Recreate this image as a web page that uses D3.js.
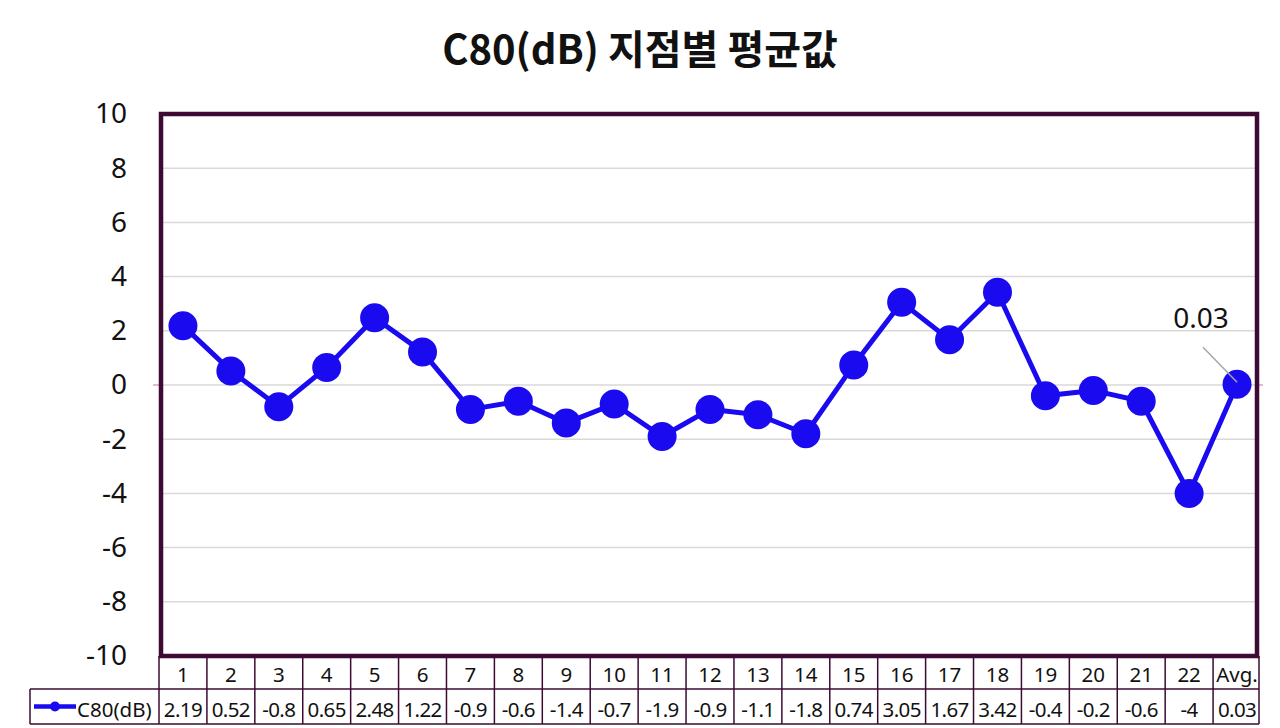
<!DOCTYPE html>
<html>
  <head>
    <meta charset="utf-8">
    <script src="https://d3js.org/d3.v7.min.js"></script>
    <title>C80(dB) 지점별 평균값</title>
    <style>
      body { margin: 0; background: #fff; }
      text { font-family: "Noto Sans CJK KR", "Noto Sans", sans-serif; fill: #111; }
    </style>
  </head>
  <body>
    <div id="chart"></div>
    <script>
      // chart data
      const categories = ["1","2","3","4","5","6","7","8","9","10","11","12","13","14","15","16","17","18","19","20","21","22","Avg."];
      const values = [2.19, 0.52, -0.8, 0.65, 2.48, 1.22, -0.9, -0.6, -1.4, -0.7, -1.9, -0.9, -1.1, -1.8, 0.74, 3.05, 1.67, 3.42, -0.4, -0.2, -0.6, -4, 0.03];
      const tableLabels = ["2.19","0.52","-0.8","0.65","2.48","1.22","-0.9","-0.6","-1.4","-0.7","-1.9","-0.9","-1.1","-1.8","0.74","3.05","1.67","3.42","-0.4","-0.2","-0.6","-4","0.03"];
      const yTicks = [-10, -8, -6, -4, -2, 0, 2, 4, 6, 8, 10];
      const seriesName = "C80(dB)";

      const W = 1280, H = 728;
      const FRAME = "#3d0a33";
      const BLUE = "#1a0af0";
      const plotL = 159, plotR = 1261, plotT = 114, plotB = 656;
      const FONT = "'Noto Sans', sans-serif";

      const svg = d3.select("#chart").append("svg")
        .attr("width", W).attr("height", H);

      // title
      svg.append("text")
        .attr("x", 640).attr("y", 64)
        .attr("text-anchor", "middle")
        .attr("font-size", 40).attr("font-weight", "bold")
        .text("C80(dB) 지점별 평균값");

      const x = d3.scaleBand().domain(categories).range([plotL, plotR]);
      const y = d3.scaleLinear().domain([-10, 10]).range([plotB, plotT]);

      // gridlines
      svg.append("g").selectAll("line")
        .data(yTicks.filter(d => d > -10 && d < 10))
        .enter().append("line")
        .attr("x1", plotL).attr("x2", plotR - 4)
        .attr("y1", d => y(d)).attr("y2", d => y(d))
        .attr("stroke", "#d9d9d9").attr("stroke-width", 1.5);

      // y axis labels (plain hyphen minus, as in the original)
      const yAxis = d3.axisLeft(y).tickValues(yTicks).tickSize(0).tickPadding(32)
        .tickFormat(d => String(d));
      const ya = svg.append("g").attr("transform", `translate(${plotL},0)`).call(yAxis);
      ya.select(".domain").remove();
      ya.selectAll("text")
        .attr("font-size", 28)
        .attr("fill", "#111")
        .style("font-family", FONT);

      // small ticks at zero
      svg.append("line").attr("x1", plotL - 6).attr("x2", plotL).attr("y1", y(0)).attr("y2", y(0))
        .attr("stroke", "#d9a0c0").attr("stroke-width", 1.5);
      svg.append("line").attr("x1", plotR - 2).attr("x2", plotR + 2).attr("y1", y(0)).attr("y2", y(0))
        .attr("stroke", "#d9a0c0").attr("stroke-width", 1.5);

      // series line
      const cx = d => x(d) + x.bandwidth() / 2;
      const line = d3.line().x((d, i) => cx(categories[i])).y(d => y(d));
      svg.append("path")
        .datum(values)
        .attr("d", line)
        .attr("fill", "none")
        .attr("stroke", BLUE)
        .attr("stroke-width", 5);

      svg.append("g").selectAll("circle")
        .data(values)
        .enter().append("circle")
        .attr("cx", (d, i) => cx(categories[i]))
        .attr("cy", d => y(d))
        .attr("r", 14.5)
        .attr("fill", BLUE);

      // data label for the average
      const lastI = values.length - 1;
      const ax = cx(categories[lastI]), ay = y(values[lastI]);
      svg.append("line")
        .attr("x1", ax - 34).attr("y1", ay - 37)
        .attr("x2", ax).attr("y2", ay - 2)
        .attr("stroke", "#a6a6a6").attr("stroke-width", 1.5);
      svg.append("text")
        .attr("x", ax - 36).attr("y", ay - 56)
        .attr("text-anchor", "middle")
        .attr("font-size", 28)
        .style("font-family", FONT)
        .text(tableLabels[lastI]);

      // plot frame
      svg.append("rect")
        .attr("x", plotL + 2).attr("y", plotT)
        .attr("width", plotR - plotL - 6).attr("height", plotB - plotT)
        .attr("fill", "none")
        .attr("stroke", FRAME).attr("stroke-width", 4.5);

      // data table
      const rowTop = plotB, rowMid = 689, rowBot = 724, legendLeft = 30;
      const tbl = svg.append("g").attr("stroke", FRAME).attr("stroke-width", 1.5);
      tbl.selectAll("line.col")
        .data(categories.map(d => x(d)).concat([plotR - 2]))
        .enter().append("line")
        .attr("class", "col")
        .attr("x1", d => d).attr("x2", d => d)
        .attr("y1", rowTop).attr("y2", rowBot);
      tbl.append("line").attr("x1", plotL).attr("x2", plotR - 2).attr("y1", rowMid).attr("y2", rowMid);
      tbl.append("line").attr("x1", legendLeft).attr("x2", plotL).attr("y1", rowMid).attr("y2", rowMid);
      tbl.append("line").attr("x1", legendLeft).attr("x2", plotR - 2).attr("y1", rowBot).attr("y2", rowBot);
      tbl.append("line").attr("x1", legendLeft).attr("x2", legendLeft).attr("y1", rowMid).attr("y2", rowBot);

      svg.append("g").selectAll("text")
        .data(categories)
        .enter().append("text")
        .attr("x", d => cx(d)).attr("y", 682)
        .attr("text-anchor", "middle")
        .attr("font-size", 20.5)
        .style("font-family", FONT)
        .text(d => d);

      svg.append("g").selectAll("text")
        .data(tableLabels)
        .enter().append("text")
        .attr("x", (d, i) => cx(categories[i])).attr("y", 717)
        .attr("text-anchor", "middle")
        .attr("font-size", 20.5)
        .attr("letter-spacing", -0.6)
        .style("font-family", FONT)
        .text(d => d);

      // legend key
      const ly = (rowMid + rowBot) / 2;
      svg.append("line").attr("x1", 34).attr("x2", 76).attr("y1", ly).attr("y2", ly)
        .attr("stroke", BLUE).attr("stroke-width", 4.5);
      svg.append("circle").attr("cx", 55).attr("cy", ly).attr("r", 5).attr("fill", BLUE);
      svg.append("text")
        .attr("x", 77).attr("y", 717)
        .attr("font-size", 20.5)
        .style("font-family", FONT)
        .text(seriesName);
    </script>
  </body>
</html>
